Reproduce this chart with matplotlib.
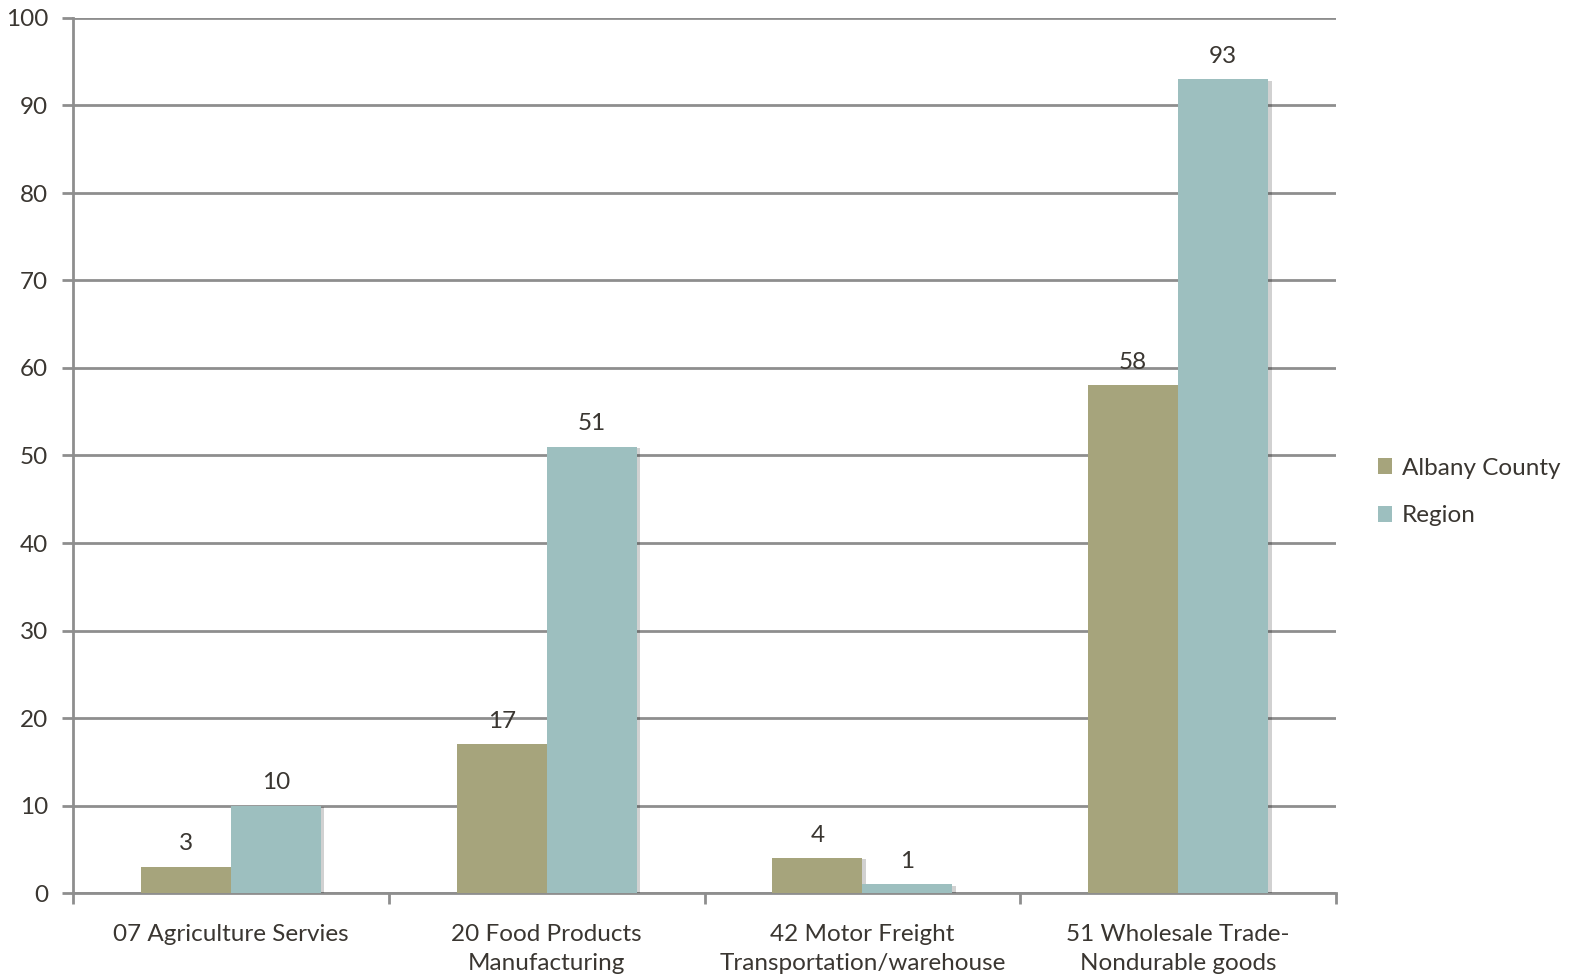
import numpy as np
import matplotlib
matplotlib.use("Agg")
import matplotlib.pyplot as plt
import matplotlib.patheffects as pe

categories = ["07 Agriculture Servies", "20 Food Products\nManufacturing",
              "42 Motor Freight\nTransportation/warehouse", "51 Wholesale Trade-\nNondurable goods"]
albany = [3, 17, 4, 58]
region = [10, 51, 1, 93]
series_names = ["Albany County", "Region"]

c_alb = "#A6A47C"
c_reg = "#9DBFBF"
txt = "#3A3631"
grid_c = "#8E8E8E"
fs = 17.5

plt.rcParams['font.family'] = ['Lato', 'DejaVu Sans']

fig = plt.figure(figsize=(15.75, 9.8), dpi=100)
ax = fig.add_axes([73/1575, 1 - 893/980, (1336 - 73)/1575, (893 - 18)/980])

x = np.arange(len(categories))
w = 0.285
shadow = [pe.SimplePatchShadow(offset=(2.5, -1), shadow_rgbFace="#000000", alpha=0.18), pe.Normal()]
b1 = ax.bar(x - w/2, albany, w, color=c_alb, label=series_names[0], zorder=3, path_effects=shadow)
b2 = ax.bar(x + w/2, region, w, color=c_reg, label=series_names[1], zorder=3, path_effects=shadow)

for bars, vals in ((b1, albany), (b2, region)):
    for r, v in zip(bars, vals):
        ax.annotate(str(v), (r.get_x() + r.get_width()/2, v), xytext=(0, 9), textcoords="offset points",
                    ha="center", va="bottom", fontsize=fs, color=txt)

ax.set_xlim(-0.5, len(categories) - 0.5)
ax.set_ylim(0, 100)
ax.set_yticks(range(0, 101, 10))
ax.yaxis.grid(True, color=grid_c, linewidth=2)
ax.set_axisbelow(True)
for s in ("top", "right"):
    ax.spines[s].set_visible(False)
for s in ("left", "bottom"):
    ax.spines[s].set_color(grid_c)
    ax.spines[s].set_linewidth(2)

ax.set_xticks(x)
ax.set_xticklabels(categories, fontsize=fs, color=txt, va="top", linespacing=1.5)
ax.tick_params(axis="x", length=0, pad=22)
ax.set_xticks(np.arange(-0.5, len(categories)), minor=True)
ax.tick_params(axis="x", which="minor", length=8, width=2, color=grid_c)
ax.tick_params(axis="y", length=8, width=2, color=grid_c, labelsize=fs, labelcolor=txt, pad=10)

leg = fig.legend(handles=[b1, b2], labels=series_names, loc="upper left",
                 bbox_to_anchor=(1368/1575, 1 - 448/980), frameon=False, fontsize=fs,
                 handlelength=0.6, handleheight=0.6, handletextpad=0.4, labelspacing=1.1,
                 labelcolor=txt, borderaxespad=0)
for h in leg.legend_handles:
    h.set_path_effects([])

fig.savefig("out.png", dpi=100)
